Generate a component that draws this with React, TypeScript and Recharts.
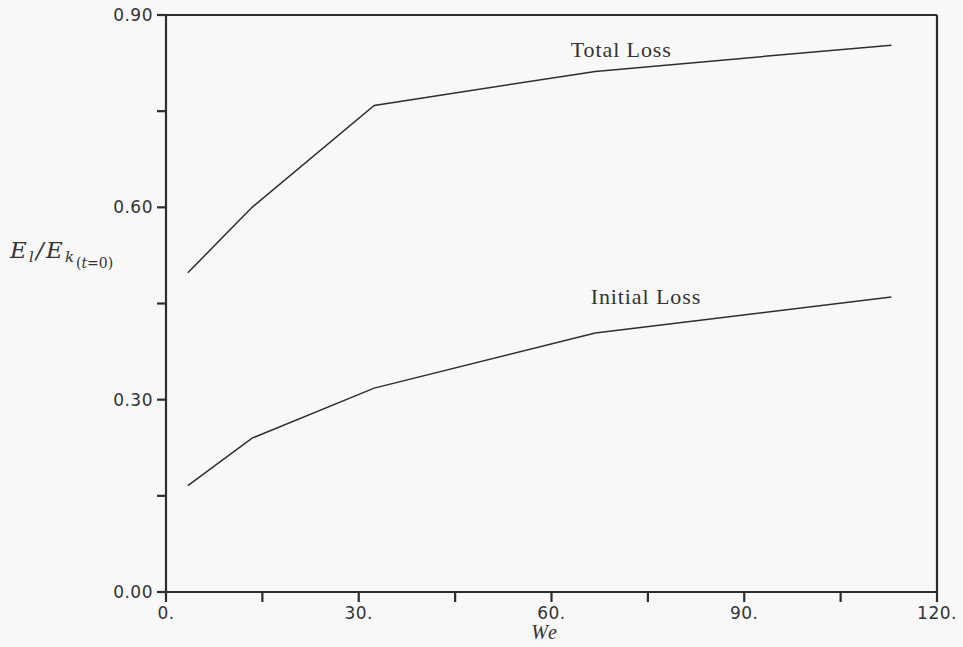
import React from "react";
import {
  LineChart,
  Line,
  XAxis,
  YAxis,
  ReferenceLine,
  ReferenceDot,
} from "recharts";

// Weber number samples and the two energy-loss ratios E_l / E_k(t=0)
const weberNumbers = [3.4, 13.4, 32.4, 66.8, 112.9];
const totalLoss = [0.498, 0.6, 0.759, 0.812, 0.853];
const initialLoss = [0.166, 0.24, 0.318, 0.404, 0.46];

// Axis ticks: every tick gets a mark, only some get a label
const xTicks = [0, 15, 30, 45, 60, 75, 90, 105, 120];
const xLabelledTicks = [0, 30, 60, 90, 120];
const yTicks = [0, 0.15, 0.3, 0.45, 0.6, 0.75, 0.9];
const yLabelledTicks = [0, 0.3, 0.6, 0.9];

const data = weberNumbers.map((we, i) => ({
  we,
  total: totalLoss[i],
  initial: initialLoss[i],
}));

const INK = "#2e2e2e";
const TEXT = "#333";
const SERIF = "'Liberation Serif', 'DejaVu Serif', serif";
const MATH = "'DejaVu Serif', 'Liberation Serif', serif";
const SANS = "'DejaVu Sans', 'Liberation Sans', sans-serif";

const formatX = (v: number) =>
  xLabelledTicks.some((t) => Math.abs(t - v) < 1e-9) ? `${v}.` : "";
const formatY = (v: number) =>
  yLabelledTicks.some((t) => Math.abs(t - v) < 1e-9) ? v.toFixed(2) : "";

const tickStyle = {
  fill: TEXT,
  fontSize: 17,
  fontFamily: SANS,
  letterSpacing: 0.5,
};

const lineStyle = { stroke: INK, strokeWidth: 2.2 };

// E_l / E_{k(t=0)} written with italic letters and stacked subscripts
const YTitle = () => (
  <text fill={TEXT} fontFamily={MATH}>
    <tspan x={10} y={258} fontSize={23} fontStyle="italic">E</tspan>
    <tspan x={29} y={262} fontSize={15} fontStyle="italic">l</tspan>
    <tspan x={36} y={258} fontSize={23} fontStyle="italic">/</tspan>
    <tspan x={46} y={258} fontSize={23} fontStyle="italic">E</tspan>
    <tspan x={65} y={262} fontSize={15} fontStyle="italic">k</tspan>
    <tspan x={76} y={268} fontSize={14}>(</tspan>
    <tspan fontSize={14} fontStyle="italic">t</tspan>
    <tspan fontSize={14}>=0)</tspan>
  </text>
);

const XTitle = () => (
  <text
    x={545}
    y={639}
    fill={TEXT}
    fontFamily={SERIF}
    fontSize={20}
    fontStyle="italic"
    textAnchor="middle"
    letterSpacing={2}
  >
    We
  </text>
);

const curveLabel = (text: string) => (props: any) => {
  const vb = props.viewBox || {};
  return (
    <text
      x={vb.x}
      y={vb.y}
      fill={TEXT}
      fontFamily={SERIF}
      fontSize={22}
      letterSpacing={0.9}
    >
      {text}
    </text>
  );
};

export default function App() {
  return (
    <div
      style={{
        position: "absolute",
        left: 0,
        top: 0,
        width: 963,
        height: 647,
        background: "#f8f8f8",
      }}
    >
      <LineChart
        width={963}
        height={647}
        data={data}
        margin={{ top: 15, right: 26, bottom: 0, left: 0 }}
      >
        <XAxis
          dataKey="we"
          type="number"
          domain={[0, 120]}
          ticks={xTicks}
          interval={0}
          tickFormatter={formatX}
          tickSize={10}
          tickMargin={5}
          height={55}
          axisLine={lineStyle}
          tickLine={lineStyle}
          tick={tickStyle}
          label={{ content: () => <XTitle /> }}
        />
        <YAxis
          type="number"
          domain={[0, 0.9]}
          ticks={yTicks}
          interval={0}
          tickFormatter={formatY}
          tickSize={9}
          tickMargin={4}
          width={166}
          axisLine={lineStyle}
          tickLine={lineStyle}
          tick={tickStyle}
          label={{ content: () => <YTitle /> }}
        />
        <ReferenceLine y={0.9} stroke={INK} strokeWidth={2.2} />
        <ReferenceLine x={120} stroke={INK} strokeWidth={2.2} />
        <Line
          type="linear"
          dataKey="total"
          stroke={INK}
          strokeWidth={1.5}
          dot={false}
          isAnimationActive={false}
        />
        <Line
          type="linear"
          dataKey="initial"
          stroke={INK}
          strokeWidth={1.5}
          dot={false}
          isAnimationActive={false}
        />
        <ReferenceDot
          x={63}
          y={0.835}
          r={0}
          fill="none"
          stroke="none"
          label={{ content: curveLabel("Total Loss") }}
        />
        <ReferenceDot
          x={66.1}
          y={0.45}
          r={0}
          fill="none"
          stroke="none"
          label={{ content: curveLabel("Initial Loss") }}
        />
      </LineChart>
    </div>
  );
}
